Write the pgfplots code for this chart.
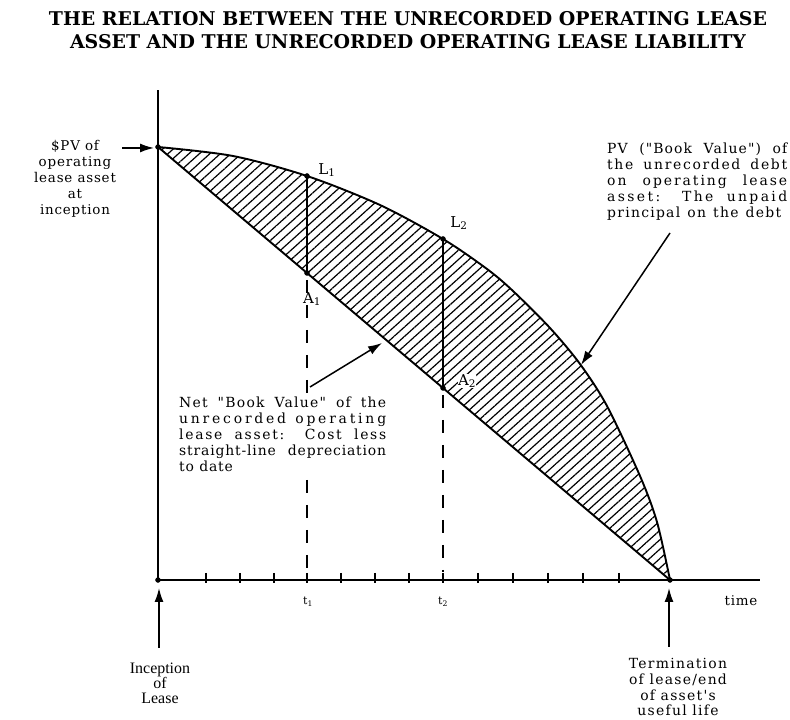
\documentclass[border=0pt]{standalone}
\usepackage{fontspec}
\setmainfont{DejaVu Serif}
\newfontfamily\spaced[LetterSpace=6]{DejaVu Serif}
\newfontfamily\wide[LetterSpace=9]{DejaVu Serif}
\newfontfamily\narrowfont{Liberation Serif}
\usepackage{pgfplots}
\pgfplotsset{compat=1.18}
\usepgfplotslibrary{fillbetween}
\usetikzlibrary{arrows.meta,patterns.meta}
% justified line of given width with given letter spacing
\newcommand{\jl}[3]{\makebox[#1][s]{\addfontfeature{LetterSpace=#2}#3}}
\newcommand{\q}{{\char34}}

\begin{document}
\begin{tikzpicture}
\begin{axis}[x=1bp,y=1bp,xmin=-158,xmax=632,ymin=-137,ymax=580,
  hide axis,clip=false,
  every axis plot/.append style={line join=round}]
\path (axis cs:-158,-137) rectangle (axis cs:632,580);
% hatched region between liability (upper) and asset (lower)
\addplot[name path=upper, black, line width=1.9bp, smooth, tension=0.5] coordinates {
 (0,433) (75,424) (149,404) (222,375) (285,341) (329,311) (355,289)
 (392,252) (422,216) (449,174) (482,104) (499,58) (512,0)};
\addplot[name path=lower, black, line width=1.9bp] coordinates {(0,433) (512,0)};
\addplot[pattern={Lines[angle=42,distance=7bp,line width=1.2bp]}, draw=none]
  fill between[of=upper and lower];
% axes
\addplot[black, line width=1.9bp] coordinates {(0,0) (0,490)};
\addplot[black, line width=1.9bp] coordinates {(0,0) (602,0)};
% ticks
\addplot[only marks, mark=|, mark size=5bp, mark options={yshift=2bp, line width=1.3bp}]
 coordinates {(48,0) (82,0) (116,0) (149,0) (183,0) (217,0) (251,0) (285,0)
 (320,0) (355,0) (390,0) (425,0) (461,0)};
% vertical solid segments
\addplot[black, line width=2bp] coordinates {(149,404) (149,307)};
\addplot[black, line width=2bp] coordinates {(285,341) (285,192)};
% dashed drops
\addplot[black, line width=1.6bp, dash pattern=on 13bp off 12bp] coordinates {(149,300) (149,8)};
\addplot[black, line width=1.6bp, dash pattern=on 13bp off 12bp] coordinates {(285,185) (285,8)};
% dots
\addplot[only marks, mark=*, mark size=2.5bp] coordinates {(0,433) (0,0) (512,0)
 (149,404) (149,307) (285,341) (285,192)};
% arrows
\addplot[black, line width=1.5bp, -{Latex[length=14bp,width=9bp]}] coordinates {(-36,432) (-4,432)};
\addplot[black, line width=1.5bp, -{Latex[length=14bp,width=9bp]}] coordinates {(1,-68) (1,-8)};
\addplot[black, line width=1.5bp, -{Latex[length=14bp,width=9bp]}] coordinates {(511,-67) (511,-8)};
\addplot[black, line width=1.5bp, -{Latex[length=14bp,width=9bp]}] coordinates {(512,347) (423,215)};
% net book value text (white background hides dashes)
\node[anchor=north west, fill=white, inner sep=1bp, align=left,
  font=\spaced\fontsize{14}{16}\selectfont] at (axis cs:20,184)
  {\jl{207bp}{9}{Net \q Book Value\q{} of the}\\
   \jl{207bp}{20}{unrecorded operating}\\
   \jl{207bp}{12}{lease asset: Cost less}\\
   \jl{207bp}{6}{straight-line depreciation}\\
   to date};
\addplot[black, line width=1.5bp, -{Latex[length=14bp,width=9bp]}] coordinates {(152,193) (224,237)};
% title
\node[font=\bfseries\fontsize{19}{23}\selectfont, align=center] at (axis cs:250,550)
  {THE RELATION BETWEEN THE UNRECORDED OPERATING LEASE\\ASSET AND THE UNRECORDED OPERATING LEASE LIABILITY};
% left label
\node[font=\spaced\fontsize{13.5}{16}\selectfont, align=center] at (axis cs:-83,401)
  {\$PV of\\operating\\lease asset\\at\\inception};
% point labels
\node[font=\fontsize{15}{16}\selectfont] at (axis cs:169,410) {L\textsubscript{1}};
\node[font=\fontsize{15}{16}\selectfont] at (axis cs:301,357) {L\textsubscript{2}};
\node[font=\fontsize{15}{16}\selectfont] at (axis cs:154,281) {A\textsubscript{1}};
\node[font=\fontsize{15}{16}\selectfont, fill=white, inner sep=0.5bp] at (axis cs:309,199) {A\textsubscript{2}};
% PV debt text
\node[anchor=north west, inner sep=1bp, align=left,
  font=\spaced\fontsize{14}{16}\selectfont] at (axis cs:448,438)
  {\jl{180bp}{8}{PV (\q Book Value\q) of}\\
   \jl{180bp}{12}{the unrecorded debt}\\
   \jl{180bp}{14}{on operating lease}\\
   \jl{180bp}{17}{asset: The unpaid}\\
   \jl{174bp}{9}{principal on the debt}};
% axis labels
\node[font=\fontsize{11}{12}\selectfont] at (axis cs:150,-22) {t\textsubscript{1}};
\node[font=\fontsize{11}{12}\selectfont] at (axis cs:285,-22) {t\textsubscript{2}};
\node[font=\spaced\fontsize{13.5}{14}\selectfont] at (axis cs:583,-21) {time};
\node[font=\narrowfont\fontsize{16}{15}\selectfont, align=center] at (axis cs:2,-103)
  {Inception\\of\\Lease};
\node[font=\wide\fontsize{14}{16}\selectfont, align=center] at (axis cs:520,-107)
  {Termination\\of lease/end\\of asset's\\useful life};
\end{axis}
\end{tikzpicture}
\end{document}
